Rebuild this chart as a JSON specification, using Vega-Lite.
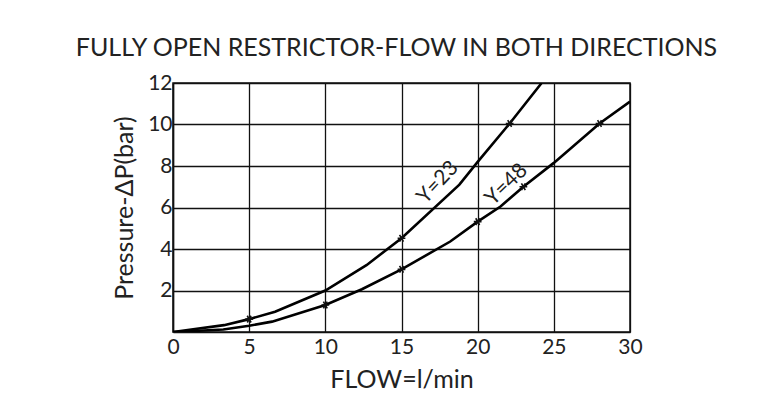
{
  "$schema": "https://vega.github.io/schema/vega-lite/v6.json",
  "width": 457,
  "height": 249,
  "autosize": {"type": "none"},
  "padding": {"left": 173, "top": 83, "right": 138, "bottom": 71},
  "background": "white",
  "title": {
    "text": "FULLY OPEN RESTRICTOR-FLOW IN BOTH DIRECTIONS",
    "font": "Lato",
    "fontSize": 25,
    "fontWeight": "normal",
    "color": "#222",
    "anchor": "middle",
    "baseline": "alphabetic",
    "offset": 28,
    "dy": 37,
    "dx": -5
  },
  "datasets": {
    "curves": [
      {"series": "Y=23", "flow": 0, "dp": 0, "marker": false},
      {"series": "Y=23", "flow": 3.35, "dp": 0.33, "marker": false},
      {"series": "Y=23", "flow": 5, "dp": 0.62, "marker": true},
      {"series": "Y=23", "flow": 6.7, "dp": 0.98, "marker": false},
      {"series": "Y=23", "flow": 10, "dp": 2.0, "marker": false},
      {"series": "Y=23", "flow": 12.7, "dp": 3.22, "marker": false},
      {"series": "Y=23", "flow": 15, "dp": 4.52, "marker": true},
      {"series": "Y=23", "flow": 18.8, "dp": 7.1, "marker": false},
      {"series": "Y=23", "flow": 20, "dp": 8.2, "marker": false},
      {"series": "Y=23", "flow": 22.1, "dp": 10.05, "marker": true},
      {"series": "Y=23", "flow": 24.2, "dp": 12, "marker": false},
      {"series": "Y=48", "flow": 0, "dp": 0, "marker": false},
      {"series": "Y=48", "flow": 3.3, "dp": 0.12, "marker": false},
      {"series": "Y=48", "flow": 5, "dp": 0.3, "marker": false},
      {"series": "Y=48", "flow": 6.5, "dp": 0.5, "marker": false},
      {"series": "Y=48", "flow": 10, "dp": 1.3, "marker": true},
      {"series": "Y=48", "flow": 12.4, "dp": 2.06, "marker": false},
      {"series": "Y=48", "flow": 15, "dp": 3.02, "marker": true},
      {"series": "Y=48", "flow": 18.2, "dp": 4.36, "marker": false},
      {"series": "Y=48", "flow": 20, "dp": 5.32, "marker": true},
      {"series": "Y=48", "flow": 21.5, "dp": 6.05, "marker": false},
      {"series": "Y=48", "flow": 23, "dp": 7.0, "marker": true},
      {"series": "Y=48", "flow": 25, "dp": 8.15, "marker": false},
      {"series": "Y=48", "flow": 28, "dp": 10.05, "marker": true},
      {"series": "Y=48", "flow": 30, "dp": 11.1, "marker": false}
    ],
    "labels": [
      {"label": "Y=23", "flow": 17.4, "dp": 7.2, "angle": -47},
      {"label": "Y=48", "flow": 21.9, "dp": 7.1, "angle": -44}
    ]
  },
  "config": {
    "view": {"stroke": "#111", "strokeWidth": 1.5},
    "axis": {
      "labelFont": "Lato",
      "titleFont": "Lato",
      "labelColor": "#222",
      "titleColor": "#222",
      "titleFontWeight": "normal",
      "labelFlush": false,
      "labelOverlap": false,
      "grid": true,
      "gridColor": "#111",
      "gridWidth": 1.3,
      "gridOpacity": 1,
      "domainColor": "#111",
      "domainWidth": 1.5,
      "ticks": false,
      "tickSize": 0
    }
  },
  "layer": [
    {
      "data": {"name": "curves"},
      "mark": {"type": "line", "color": "black", "strokeWidth": 2.6, "clip": true},
      "encoding": {
        "x": {
          "field": "flow", "type": "quantitative",
          "scale": {"domain": [0, 30], "nice": false},
          "axis": {
            "title": "FLOW=l/min",
            "values": [0, 5, 10, 15, 20, 25, 30],
            "labelFontSize": 21,
            "labelPadding": 4,
            "titleFontSize": 25,
            "titlePadding": 10
          }
        },
        "y": {
          "field": "dp", "type": "quantitative",
          "scale": {"domain": [0, 12], "nice": false},
          "axis": {
            "title": "Pressure-ΔP(bar)",
            "values": [2, 4, 6, 8, 10, 12],
            "labelFontSize": 21,
            "labelPadding": 1,
            "titleFontSize": 25,
            "titlePadding": 10
          }
        },
        "detail": {"field": "series"}
      }
    },
    {
      "data": {"name": "curves"},
      "transform": [{"filter": "datum.marker"}],
      "mark": {
        "type": "point",
        "shape": "M-1,0L1,0M-0.5,-0.87L0.5,0.87M-0.5,0.87L0.5,-0.87",
        "filled": false,
        "stroke": "#111",
        "strokeWidth": 1.6,
        "size": 60,
        "opacity": 1
      },
      "encoding": {
        "x": {"field": "flow", "type": "quantitative"},
        "y": {"field": "dp", "type": "quantitative"}
      }
    },
    {
      "data": {"name": "labels"},
      "mark": {"type": "text", "font": "Lato", "fontSize": 21, "color": "#222", "align": "center", "baseline": "middle"},
      "encoding": {
        "x": {"field": "flow", "type": "quantitative"},
        "y": {"field": "dp", "type": "quantitative"},
        "text": {"field": "label"},
        "angle": {"field": "angle", "type": "quantitative", "scale": null}
      }
    }
  ]
}
